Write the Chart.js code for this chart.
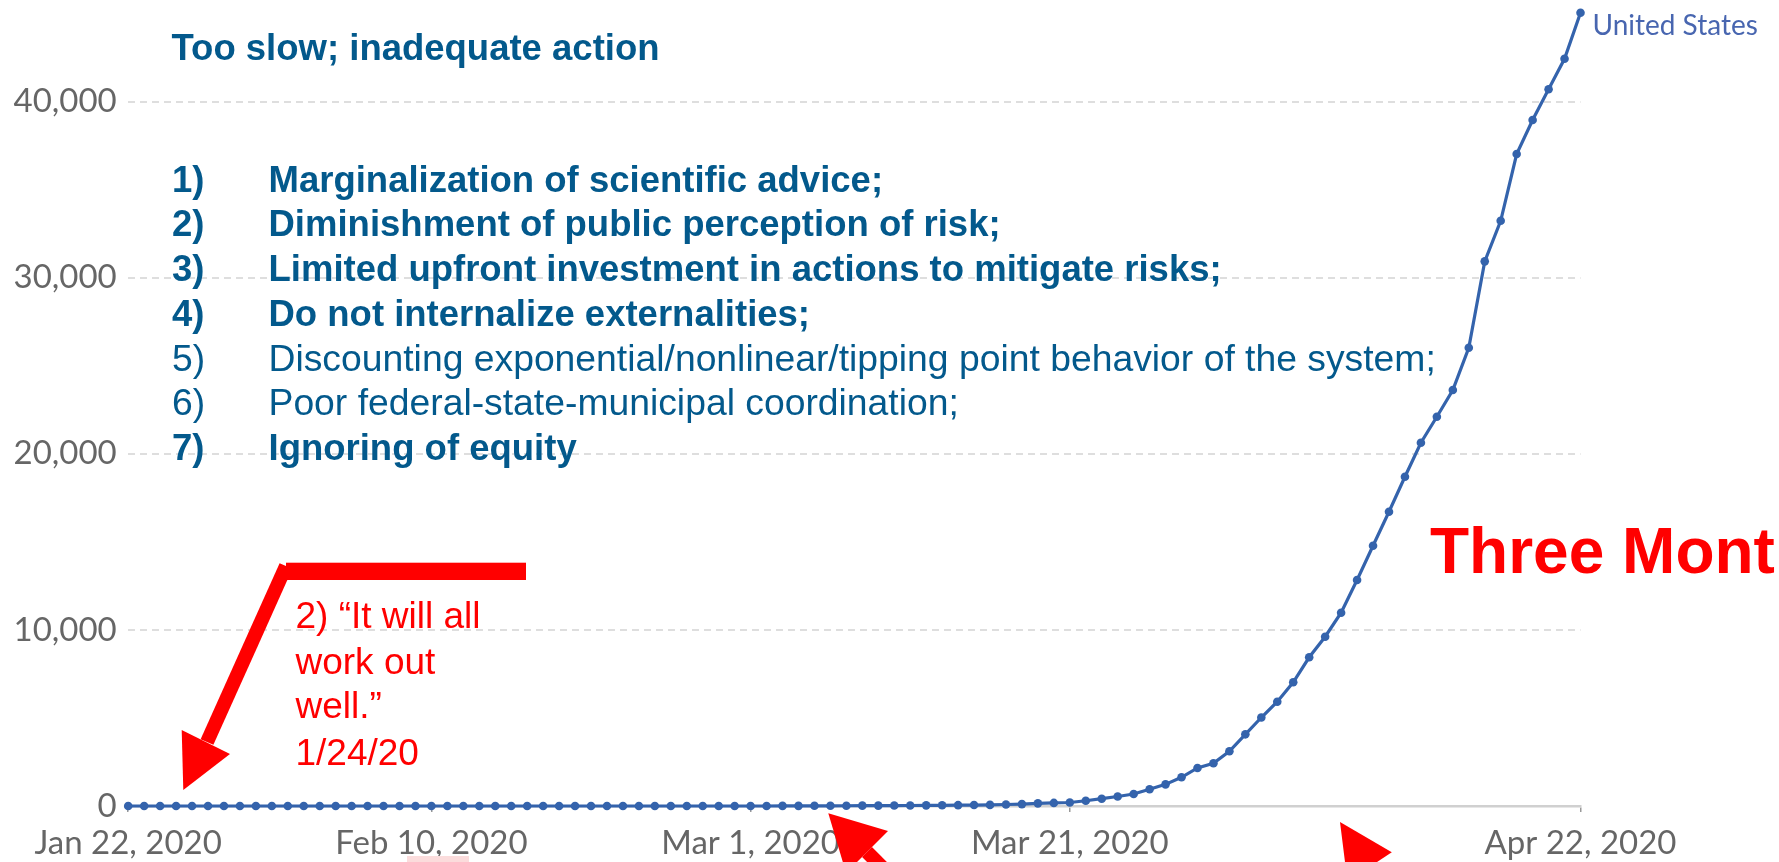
<!DOCTYPE html>
<html>
<head>
<meta charset="utf-8">
<script src="https://cdn.jsdelivr.net/npm/chart.js@4.4.1/dist/chart.umd.min.js"></script>
<style>
  html, body { margin: 0; padding: 0; background: #fff; overflow: hidden; }
  #wrap { position: relative; width: 1779px; height: 862px; }
  #notes { position: absolute; left: 0; top: 0; pointer-events: none; }
  .note { font-family: 'Liberation Sans', Arial, sans-serif; }
  .blue { fill: #03598c; font-size: 36.5px; }
  .reg { font-size: 37.3px; }
  .bold { font-weight: bold; }
  .red { fill: #ff0000; }
</style>
</head>
<body>
<div id="wrap">
  <canvas id="deathsChart"></canvas>
  <svg id="notes" width="1779" height="862" viewBox="0 0 1779 862">
    <!-- 제목 + 원인 목록 -->
    <text class="note blue bold" x="171.5" y="60" font-size="37.7">Too slow; inadequate action</text>
    <text class="note blue bold" y="191.7"><tspan x="172">1)</tspan><tspan x="268.5">Marginalization of scientific advice;</tspan></text>
    <text class="note blue bold" y="236.4"><tspan x="172">2)</tspan><tspan x="268.5">Diminishment of public perception of risk;</tspan></text>
    <text class="note blue bold" y="281.1"><tspan x="172">3)</tspan><tspan x="268.5">Limited upfront investment in actions to mitigate risks;</tspan></text>
    <text class="note blue bold" y="325.8"><tspan x="172">4)</tspan><tspan x="268.5">Do not internalize externalities;</tspan></text>
    <text class="note blue reg" y="370.5"><tspan x="172">5)</tspan><tspan x="268.5">Discounting exponential/nonlinear/tipping point behavior of the system;</tspan></text>
    <text class="note blue reg" y="415.2"><tspan x="172">6)</tspan><tspan x="268.5">Poor federal-state-municipal coordination;</tspan></text>
    <text class="note blue bold" y="459.9"><tspan x="172">7)</tspan><tspan x="268.5">Ignoring of equity</tspan></text>

    <!-- 빨간 화살표 (1/24/20) -->
    <rect x="286" y="562.7" width="240" height="17.3" fill="#ff0000"/>
    <line x1="286" y1="566" x2="207" y2="742" stroke="#ff0000" stroke-width="14"/>
    <polygon points="183.3,790 181.7,730 230,754" fill="#ff0000"/>
    <text class="note red" font-size="37" y="628.3"><tspan x="295.5">2) “It will all</tspan></text>
    <text class="note red" font-size="37" y="674.3"><tspan x="295.5">work out</tspan></text>
    <text class="note red" font-size="37" y="718.3"><tspan x="295.5">well.”</tspan></text>
    <text class="note red" font-size="37" y="765"><tspan x="295.5">1/24/20</tspan></text>

    <!-- 하단 화살표들 -->
    <polygon points="828.3,813.3 888,831 846.1,873" fill="#ff0000"/>
    <line x1="867" y1="852" x2="937" y2="922" stroke="#ff0000" stroke-width="14"/>
    <polygon points="1340,822 1391.8,852.3 1347.4,881.5" fill="#ff0000"/>
    <line x1="1369.6" y1="866.9" x2="1424" y2="950" stroke="#ff0000" stroke-width="14"/>
    <rect x="407" y="856" width="62" height="6" fill="#fbdcdc"/>

    <text class="note red bold" font-size="64" x="1430" y="572.7">Three Months</text>
  </svg>
</div>

<script>
/* ================================================
   미국 누적 사망자 (Jan 22 – Apr 22, 2020)
   ================================================ */

const seriesName = 'United States';
const startDay = { year: 2020, month: 0, day: 22 };
const monthNames = ['Jan', 'Feb', 'Mar', 'Apr', 'May', 'Jun', 'Jul', 'Aug', 'Sep', 'Oct', 'Nov', 'Dec'];

// 일별 누적 사망자
const usDeaths = [
  0, 0, 0, 0, 0, 0, 0, 0, 0, 0,                 // Jan 22 - Jan 31
  0, 0, 0, 0, 0, 0, 0, 0, 0, 0,                 // Feb 1 - Feb 10
  0, 0, 0, 0, 0, 0, 0, 0, 0, 0,                 // Feb 11 - Feb 20
  0, 0, 0, 0, 0, 0, 0, 0, 0,                    // Feb 21 - Feb 29
  1, 1, 6, 9, 11, 12, 15, 19, 22, 26,           // Mar 1 - Mar 10
  28, 36, 40, 47, 54, 63, 85, 108, 150, 175,    // Mar 11 - Mar 20
  200, 300, 415, 540, 680, 950, 1230, 1630, 2160, 2430, 3110,        // Mar 21 - Mar 31
  4070, 5025, 5920, 7025, 8445, 9615, 10975, 12835, 14780, 16710,    // Apr 1 - Apr 10
  18700, 20630, 22105, 23625, 26025, 30930, 33235, 37025, 38955, 40700, 42435, 45050  // Apr 11 - Apr 22
];

// x축에 표시할 날짜
const xTickLabels = ['Jan 22, 2020', 'Feb 10, 2020', 'Mar 1, 2020', 'Mar 21, 2020', 'Apr 22, 2020'];
// y축 눈금
const yTickValues = [0, 10000, 20000, 30000, 40000];

// 날짜 라벨 생성
const dateLabels = usDeaths.map((v, i) => {
  const d = new Date(startDay.year, startDay.month, startDay.day + i);
  return `${monthNames[d.getMonth()]} ${d.getDate()}, ${d.getFullYear()}`;
});

const lineColor = '#3463ac';

// 마지막 점 옆 시리즈 이름
const seriesLabelPlugin = {
  id: 'seriesLabel',
  afterDatasetsDraw(chart) {
    const meta = chart.getDatasetMeta(0);
    const last = meta.data[meta.data.length - 1];
    const ctx = chart.ctx;
    ctx.save();
    ctx.font = '28px Lato';
    ctx.fillStyle = '#4866b0';
    ctx.textAlign = 'left';
    ctx.textBaseline = 'alphabetic';
    ctx.fillText(seriesName, last.x + 12, last.y + 22);
    ctx.restore();
  }
};

Chart.defaults.font.family = 'Lato';

new Chart(document.getElementById('deathsChart'), {
  type: 'line',
  data: {
    labels: dateLabels,
    datasets: [{
      label: seriesName,
      data: usDeaths,
      borderColor: lineColor,
      backgroundColor: lineColor,
      borderWidth: 3.2,
      pointRadius: 4.3,
      pointBorderWidth: 0,
      pointBackgroundColor: lineColor,
      tension: 0,
      fill: false,
      clip: false
    }]
  },
  options: {
    responsive: true,
    maintainAspectRatio: false,
    animation: false,
    devicePixelRatio: 1,
    layout: {
      padding: { left: 0, right: 198.5, top: 4.8, bottom: 0 }
    },
    plugins: {
      legend: { display: false },
      tooltip: { enabled: false }
    },
    scales: {
      x: {
        type: 'category',
        grid: {
          display: true,
          drawOnChartArea: false,
          drawTicks: true,
          tickLength: 6,
          color: '#999999',
          lineWidth: 1.5
        },
        border: {
          display: true,
          color: '#d0d0d0',
          width: 2.5
        },
        ticks: {
          autoSkip: false,
          maxRotation: 0,
          minRotation: 0,
          padding: 11.6,
          color: '#666666',
          font: { size: 33 }
        },
        afterBuildTicks: function(scale) {
          scale.ticks = scale.ticks.filter(t => xTickLabels.includes(scale.getLabelForValue(t.value)));
        },
        afterFit: function(scale) {
          scale.height = 56;
        }
      },
      y: {
        min: 0,
        max: 45500,
        grid: {
          drawTicks: false,
          lineWidth: 2,
          color: function(ctx) {
            return ctx.tick && ctx.tick.value === 0 ? 'rgba(0,0,0,0)' : '#dedede';
          }
        },
        border: {
          display: false,
          dash: [7, 5]
        },
        ticks: {
          stepSize: 10000,
          includeBounds: false,
          padding: 11.5,
          color: '#666666',
          font: { size: 33 },
          callback: function(value) {
            return value.toLocaleString('en-US');
          }
        },
        afterBuildTicks: function(scale) {
          scale.ticks = yTickValues.map(v => ({ value: v }));
        },
        afterFit: function(scale) {
          scale.width = 128.2;
          scale.paddingTop = 0;
          scale.paddingBottom = 0;
        }
      }
    }
  },
  plugins: [seriesLabelPlugin]
});
</script>
</body>
</html>
